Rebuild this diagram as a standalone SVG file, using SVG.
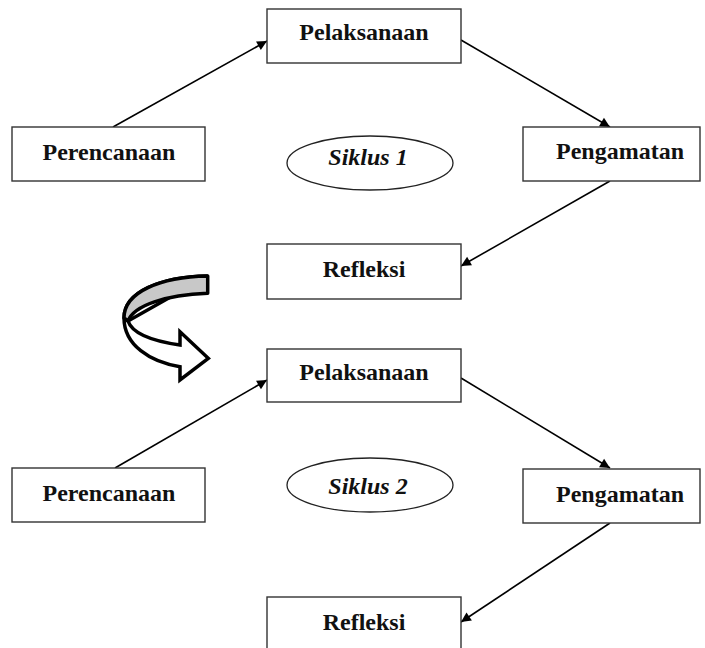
<svg xmlns="http://www.w3.org/2000/svg" width="705" height="648" viewBox="0 0 705 648">
<style>
.box{fill:#fff;stroke:#333;stroke-width:1.4}
.ell{fill:#fff;stroke:#222;stroke-width:1.3}
.t{font-family:"Liberation Serif","Times New Roman",serif;font-weight:bold;font-size:24px;fill:#111;text-anchor:middle}
.ti{font-style:italic}
.c{stroke:#000;stroke-width:1.6;fill:none;marker-end:url(#ah)}
</style>
<defs>
<marker id="ah" viewBox="0 0 10 10" refX="10" refY="5" markerWidth="7" markerHeight="7" markerUnits="userSpaceOnUse" orient="auto" overflow="visible">
<path d="M0,0 L10,5 L0,10 z" fill="#000" transform="scale(1.4) translate(-2.9,-1.4)"/>
</marker>
</defs>
<rect width="705" height="648" fill="#fff"/>
<g id="connectors">
<line class="c" x1="113" y1="127" x2="267" y2="41"/>
<line class="c" x1="461" y1="40" x2="610" y2="127"/>
<line class="c" x1="610" y1="181" x2="461" y2="266"/>
<line class="c" x1="115" y1="468" x2="267" y2="380"/>
<line class="c" x1="461" y1="378" x2="610" y2="468"/>
<line class="c" x1="610" y1="523" x2="461" y2="622"/>
</g>
<g id="pelaksanaan1"><rect class="box" x="267" y="9" width="194" height="54"/><text class="t" x="364" y="40">Pelaksanaan</text></g>
<g id="perencanaan1"><rect class="box" x="12" y="127" width="193" height="54"/><text class="t" x="109" y="160">Perencanaan</text></g>
<g id="pengamatan1"><rect class="box" x="523" y="127" width="177" height="54"/><text class="t" x="620" y="159">Pengamatan</text></g>
<g id="siklus1"><ellipse class="ell" cx="370" cy="163" rx="83" ry="27"/><text class="t ti" x="368" y="165">Siklus 1</text></g>
<g id="refleksi1"><rect class="box" x="267" y="244" width="194" height="55"/><text class="t" x="364" y="277">Refleksi</text></g>
<g id="transition">
<path d="M207.7,276 C160,277 124,292 124,318 C124,345 150,362 180,366.7 L180,380 L208.3,358.3 L180,331.7 L180,345 C152,341 132,333 128,321 Z" fill="#fff" stroke="#000" stroke-width="3.5" stroke-linejoin="miter"/>
<path d="M207.7,276 C160,277 124,292 124,318 L128,321 C134,305 166,295 207.7,293.3 Z" fill="#c8c8c8" stroke="#000" stroke-width="3.5" stroke-linejoin="round"/>
</g>
<g id="pelaksanaan2"><rect class="box" x="267" y="349" width="194" height="53"/><text class="t" x="364" y="380">Pelaksanaan</text></g>
<g id="perencanaan2"><rect class="box" x="12" y="468" width="193" height="54"/><text class="t" x="109" y="501">Perencanaan</text></g>
<g id="pengamatan2"><rect class="box" x="523" y="469" width="177" height="54"/><text class="t" x="620" y="502">Pengamatan</text></g>
<g id="siklus2"><ellipse class="ell" cx="370" cy="485" rx="83" ry="27"/><text class="t ti" x="368" y="494">Siklus 2</text></g>
<g id="refleksi2"><rect class="box" x="267" y="597" width="194" height="60"/><text class="t" x="364" y="630">Refleksi</text></g>
</svg>
